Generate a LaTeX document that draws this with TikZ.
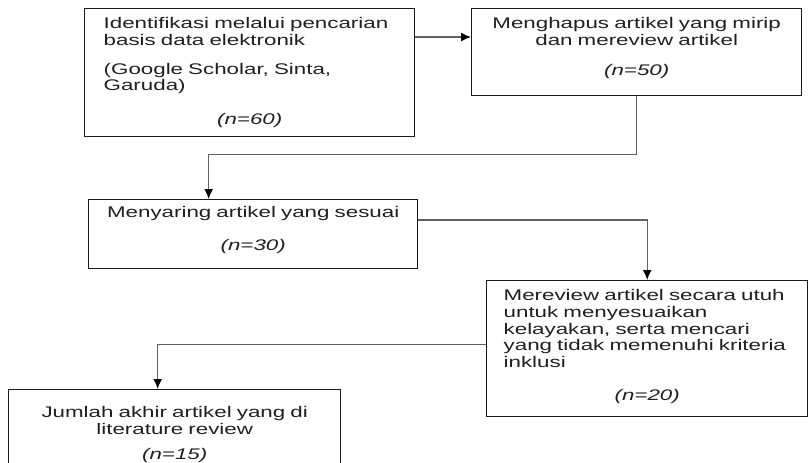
\documentclass[tikz,border=0pt]{standalone}
\usepackage{fontspec}
\setmainfont{Liberation Sans}[FakeStretch=1.45]
\usetikzlibrary{arrows.meta}
\usetikzlibrary{calc}
\tikzset{every picture/.style={line width=1.4pt}}
\begin{document}
\begin{tikzpicture}[x=1pt,y=-1pt,
  tahap/.style={draw=black!90, anchor=north west, inner ysep=0pt, text=black!88, font=\fontsize{15.4}{16.7}\selectfont},
  alur/.style={draw=black!62, -{Latex[length=10pt,width=9pt,color=black]}}]
\useasboundingbox (0,0) rectangle (809,463);

\node (ident) [tahap, align=left, inner xsep=19pt, text width=292pt, text height=20pt, text depth=108pt] at (84,8)
  {Identifikasi melalui pencarian\\basis data elektronik\par\vspace{12pt}(Google Scholar, Sinta,\\Garuda)\par\vspace{17pt}{\centering\itshape (n=60)\par}};
\node (hapus) [tahap, align=center, inner xsep=15pt, text width=300pt, text height=20pt, text depth=67pt] at (471,8)
  {Menghapus artikel yang mirip\\dan mereview artikel\\[13pt]\itshape (n=50)};
\node (saring) [tahap, align=center, inner xsep=15pt, text width=299pt, text height=18pt, text depth=51pt] at (88,199)
  {Menyaring artikel yang sesuai\\[16pt]\itshape (n=30)};
\node (review) [tahap, align=left, inner xsep=17pt, text width=287pt, text height=20pt, text depth=116pt] at (486,280)
  {Mereview artikel secara utuh\\untuk menyesuaikan\\kelayakan, serta mencari\\yang tidak memenuhi kriteria\\inklusi\par\vspace{16pt}{\centering\itshape (n=20)\par}};
\node (akhir) [tahap, align=center, inner xsep=15pt, text width=302pt, text height=28pt, text depth=61pt] at (8,389)
  {Jumlah akhir artikel yang di\\literature review\\[8pt]\itshape (n=15)};

\draw[alur] ([yshift=-29pt]ident.north east) -- ([yshift=-29pt]hapus.north west);
\draw[alur] (hapus.south) -- ++(0,58) -| ([xshift=-44.5pt]saring.north);
\draw[alur] ([yshift=-21pt]saring.north east) -| (review.north);
\draw[alur] ([yshift=4pt]review.west) -| ([xshift=-17pt]akhir.north);
\end{tikzpicture}
\end{document}
